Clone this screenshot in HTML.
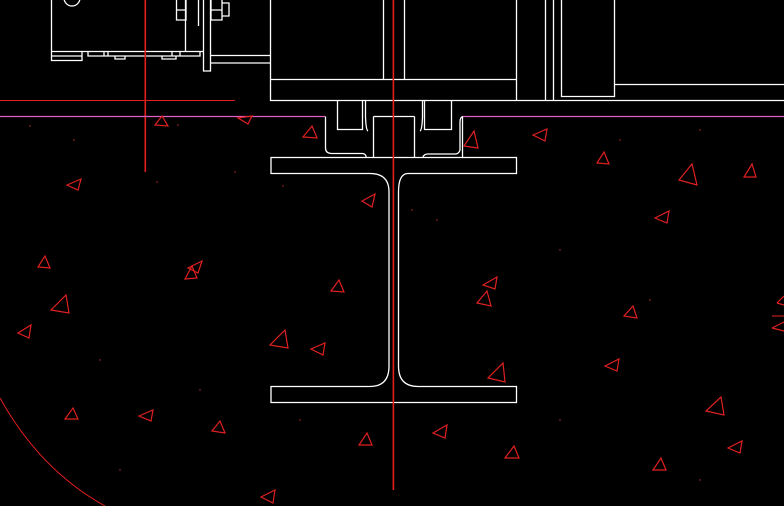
<!DOCTYPE html>
<html><head><meta charset="utf-8"><style>html,body{margin:0;padding:0;background:#000;width:784px;height:506px;overflow:hidden}svg{display:block}</style></head>
<body>
<svg width="784" height="506" viewBox="0 0 784 506" xmlns="http://www.w3.org/2000/svg">
<rect width="784" height="506" fill="#000"/>
<g fill="none" stroke="#fff" stroke-width="1.3">
<path d="M51.5 0V60.5H82V51.5"/>
<path d="M51.5 51.5H203"/>
<path d="M51.5 56H82"/>
<path d="M88 51.5V56H200V51.5"/>
<path d="M115 56V59H125V56M162 56V59H176V56M104 51.5V56M108 51.5V56M172 51.5V56M180 51.5V56"/>
<path d="M185.5 0V51.5"/>
<path d="M176.5 0V20H186V0M176.5 10H186"/>
<path d="M198.5 0V26"/>
<path d="M203.5 0V71H210.5V0"/>
<path d="M211 0V20H222V0M211 10H222M222 3H229V16H222"/>
<path d="M210.5 55.5H270M210.5 63H270"/>
<circle cx="72" cy="-2" r="8"/>
<path d="M270.5 0V100.5H784"/>
<path d="M270.5 79.5H516.5M383.5 0V79.5M404.5 0V79.5M516.5 0V100.5"/>
<path d="M545.5 0V100.5M553.5 0V100.5M561.5 0V96.5H614.5V0M614.5 84.5H784"/>
<path d="M337.5 100.5V129.5H362.5V100.5"/>
<path d="M424.5 100.5V129.5H451.5V100.5"/>
<path d="M365.5 100.5V117Q366 130 368 131"/>
<path d="M325.5 116.5V148Q325.5 153 331 153.5H362Q365 153.5 366 156V157"/>
<path d="M373.5 116.5V157M414.5 116.5V157M373.5 116.5H414.5"/>
<path d="M422.5 100.5V117Q422 130 420 131"/>
<path d="M423 157Q424 154 428 154H455Q459 154 460 150V122Q460 117 463 116.5"/>
<path d="M462.5 117V157"/>
<path d="M271 157.5H516.5V173.5H408Q398.5 173.5 398.5 192V366Q398.5 386.5 418 386.5H516.5V402.5H271V386.5H370Q389 386.5 389 366V192Q389 173.5 370 173.5H271Z"/>
</g>
<g fill="#e41e1e">
<rect x="144.5" y="0" width="1.6" height="172"/>
<rect x="392.6" y="0" width="1.6" height="490"/>
</g>
<g fill="none" stroke="#e41e1e" stroke-width="1">
<path d="M0 100.5H235"/>
<path d="M0 398Q40 470 105 506"/>
<path d="M772 316H784"/>
</g>
<path d="M0 116.5H325M463 116.5H784" stroke="#e060c0" stroke-width="1.2"/>
<g fill="none" stroke="#e02020" stroke-width="1.2">
<path d="M155 125L168 126L162 116Z"/>
<path d="M238 118L252 116L248 124Z"/>
<path d="M303 137L317 138L312 126Z"/>
<path d="M464 146L478 148L474 131Z"/>
<path d="M533 135L547 129L545 141Z"/>
<path d="M597 163L609 164L604 152Z"/>
<path d="M679 180L697 185L692 164Z"/>
<path d="M744 177L756 177L752 164Z"/>
<path d="M67 185L81 179L78 190Z"/>
<path d="M362 201L375 194L372 207Z"/>
<path d="M655 218L669 211L667 223Z"/>
<path d="M38 267L50 268L45 256Z"/>
<path d="M188 268L202 261L198 273Z"/>
<path d="M185 279L197 278L192 266Z"/>
<path d="M51 310L69 313L66 295Z"/>
<path d="M331 291L344 292L339 280Z"/>
<path d="M483 285L497 277L495 289Z"/>
<path d="M477 303L491 306L487 291Z"/>
<path d="M624 316L637 318L633 306Z"/>
<path d="M18 333L31 325L29 338Z"/>
<path d="M270 345L288 348L285 330Z"/>
<path d="M311 349L325 343L323 355Z"/>
<path d="M605 366L619 359L617 371Z"/>
<path d="M488 378L505 382L503 363Z"/>
<path d="M706 411L724 415L721 397Z"/>
<path d="M65 419L78 419L73 408Z"/>
<path d="M139 416L153 410L151 421Z"/>
<path d="M212 431L225 433L220 421Z"/>
<path d="M433 433L447 425L445 438Z"/>
<path d="M359 445L372 445L367 433Z"/>
<path d="M505 458L519 458L514 446Z"/>
<path d="M728 448L742 441L740 453Z"/>
<path d="M653 470L666 470L661 458Z"/>
<path d="M261 497L275 490L273 503Z"/>
<path d="M777 303L784 296M777 303L784 305"/>
<path d="M772 328L784 322M772 328L784 331"/>
</g>
<g fill="#c03030">
<circle cx="30" cy="126" r="0.7"/><circle cx="74" cy="140" r="0.7"/><circle cx="178" cy="125" r="0.7"/>
<circle cx="235" cy="172" r="0.7"/><circle cx="157" cy="182" r="0.7"/><circle cx="283" cy="186" r="0.7"/>
<circle cx="412" cy="210" r="0.7"/><circle cx="437" cy="220" r="0.7"/><circle cx="620" cy="140" r="0.7"/>
<circle cx="700" cy="130" r="0.7"/><circle cx="560" cy="250" r="0.7"/><circle cx="650" cy="300" r="0.7"/>
<circle cx="100" cy="360" r="0.7"/><circle cx="200" cy="390" r="0.7"/><circle cx="300" cy="420" r="0.7"/>
<circle cx="560" cy="420" r="0.7"/><circle cx="700" cy="480" r="0.7"/><circle cx="120" cy="470" r="0.7"/>
</g>
</svg>
</body></html>
